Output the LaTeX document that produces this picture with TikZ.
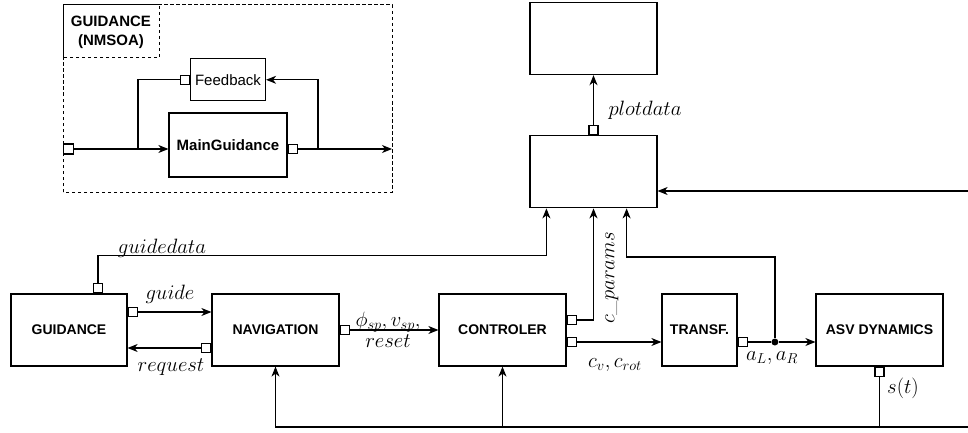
\documentclass[tikz,border=0pt]{standalone}
\usepackage{fontspec}
\setsansfont{Liberation Sans}
\usetikzlibrary{arrows.meta, positioning}

\tikzset{
  blk/.style={draw, minimum width=127pt, minimum height=72pt, inner sep=2pt,
    font=\sffamily\bfseries\fontsize{14}{17}\selectfont},
  port/.style={draw, fill=white, minimum size=9pt, inner sep=0pt},
  lbl/.style={inner sep=0pt, font=\fontsize{20.74}{21}\selectfont},
  junc/.style={circle, fill, minimum size=7pt, inner sep=0pt},
  grp/.style={draw, line width=1pt, dash pattern=on 3.5pt off 2.5pt},
}

\begin{document}
\begin{tikzpicture}[x=1pt, y=1pt, >={Stealth[length=10pt, width=8pt, inset=3pt]}, line width=1.2pt]
    \useasboundingbox (0,0) rectangle (968,432);

    % Guidance subsystem (inner structure)
    \draw[grp] (63,240) rectangle (392,427);
    \draw[grp] (63,374) rectangle (159,427);
    \node[font=\sffamily\bfseries\fontsize{15}{19}\selectfont, align=center] (ttl) at (111,400) {GUIDANCE\\(NMSOA)};
    \node[blk, minimum width=118pt, minimum height=64pt, font=\sffamily\bfseries\fontsize{15}{18}\selectfont] (mg) at (228,287) {MainGuidance};
    \node[blk, minimum width=75pt, minimum height=42pt, inner sep=1pt, font=\sffamily\fontsize{15}{18}\selectfont, above=11pt of mg] (fb) {Feedback};
    \node[port, anchor=east] (fbp) at (fb.west) {};
    \node[port, anchor=west, yshift=-4pt] (mgp) at (mg.east) {};
    \node[port, minimum size=10pt, anchor=west] (inp) at (63,283) {};
    \coordinate (fbl) at (138,283);
    \coordinate (fbr) at (318,283);
    \coordinate (gout) at (392,283);

    \draw[->] (inp) -- (inp -| mg.west);
    \draw (fbp) -| (fbl);
    \draw[->] (mgp) -- (gout);
    \draw[->] (fbr) |- (fb.east);

    % Nodes
    \node[blk, minimum width=116pt] (guid) at (69,102) {GUIDANCE};
    \node[blk, right=83.8pt of guid] (nav) {NAVIGATION};
    \node[blk, right=98.8pt of nav] (ctrl) {CONTROLER};
    \node[blk, minimum width=75pt, right=94.8pt of ctrl] (transf) {TRANSF.};
    \node[blk, right=77.8pt of transf] (asv) {ASV DYNAMICS};
    \node[blk, above=85pt of ctrl, xshift=91pt] (agg) {};
    \node[blk, above=60pt of agg] (plot) {};

    % Ports
    \node[port, anchor=south, xshift=29pt] (pgd) at (guid.north) {};
    \node[port, anchor=west, yshift=18pt] (pgu) at (guid.east) {};
    \node[port, anchor=east, yshift=-18pt] (prq) at (nav.west) {};
    \node[port, anchor=west] (pnv) at (nav.east) {};
    \node[port, anchor=west, yshift=10pt] (pcp) at (ctrl.east) {};
    \node[port, anchor=west, yshift=-12pt] (pcv) at (ctrl.east) {};
    \node[port, anchor=west, yshift=-12pt] (ptr) at (transf.east) {};
    \node[port, anchor=north] (pst) at (asv.south) {};
    \node[port, anchor=south] (ppd) at (agg.north) {};
    \node[junc, right=23pt of ptr] (jn) {};

    \coordinate (rin) at (968,241);
    \coordinate (rbot) at (968,5);

    % Signal flow along the loop
    \draw[->] (pgu) -- (pgu -| nav.west);
    \draw[->] (prq) -- (prq -| guid.east);
    \draw[->] (pnv) -- (ctrl.west);
    \draw[->] (pcv) -- (pcv -| transf.west);
    \draw (ptr) -- (jn);
    \draw[->] (jn) -- (jn -| asv.west);

    % Logged data
    \draw[->] (pgd.north) -- ++(0,27.5) -| ([xshift=17pt]agg.south west);
    \draw[->] (pcp) -| (agg.south);
    \draw[->] (jn) -- ++(0,85) -| ([xshift=-31pt]agg.south east);
    \draw[->] (rin) -- (rin -| agg.east);
    \draw[->] (ppd) -- (plot.south);

    % State feedback
    \draw (pst) -- (pst |- rbot);
    \draw[->] (rbot) -| (nav.south);
    \draw[->] (ctrl.south |- rbot) -- (ctrl.south);

    % Labels
    \node[lbl] (lgd) at (162,184) {$guidedata$};
    \node[lbl] (lgu) at (170,138) {$guide$};
    \node[lbl] (lrq) at (171,65) {$request$};
    \node[lbl, align=center] (lsp) at (388,102) {$\phi_{sp}, v_{sp},$\\$reset$};
    \node[lbl, rotate=90] (lcp) at (612,154) {$c\_params$};
    \node[lbl] (lcv) at (615,67) {$c_v, c_{rot}$};
    \node[lbl] (lal) at (772,74) {$a_L, a_R$};
    \node[lbl] (lst) at (903,44) {$s(t)$};
    \node[lbl] (lpd) at (645,322) {$plotdata$};
\end{tikzpicture}
\end{document}
